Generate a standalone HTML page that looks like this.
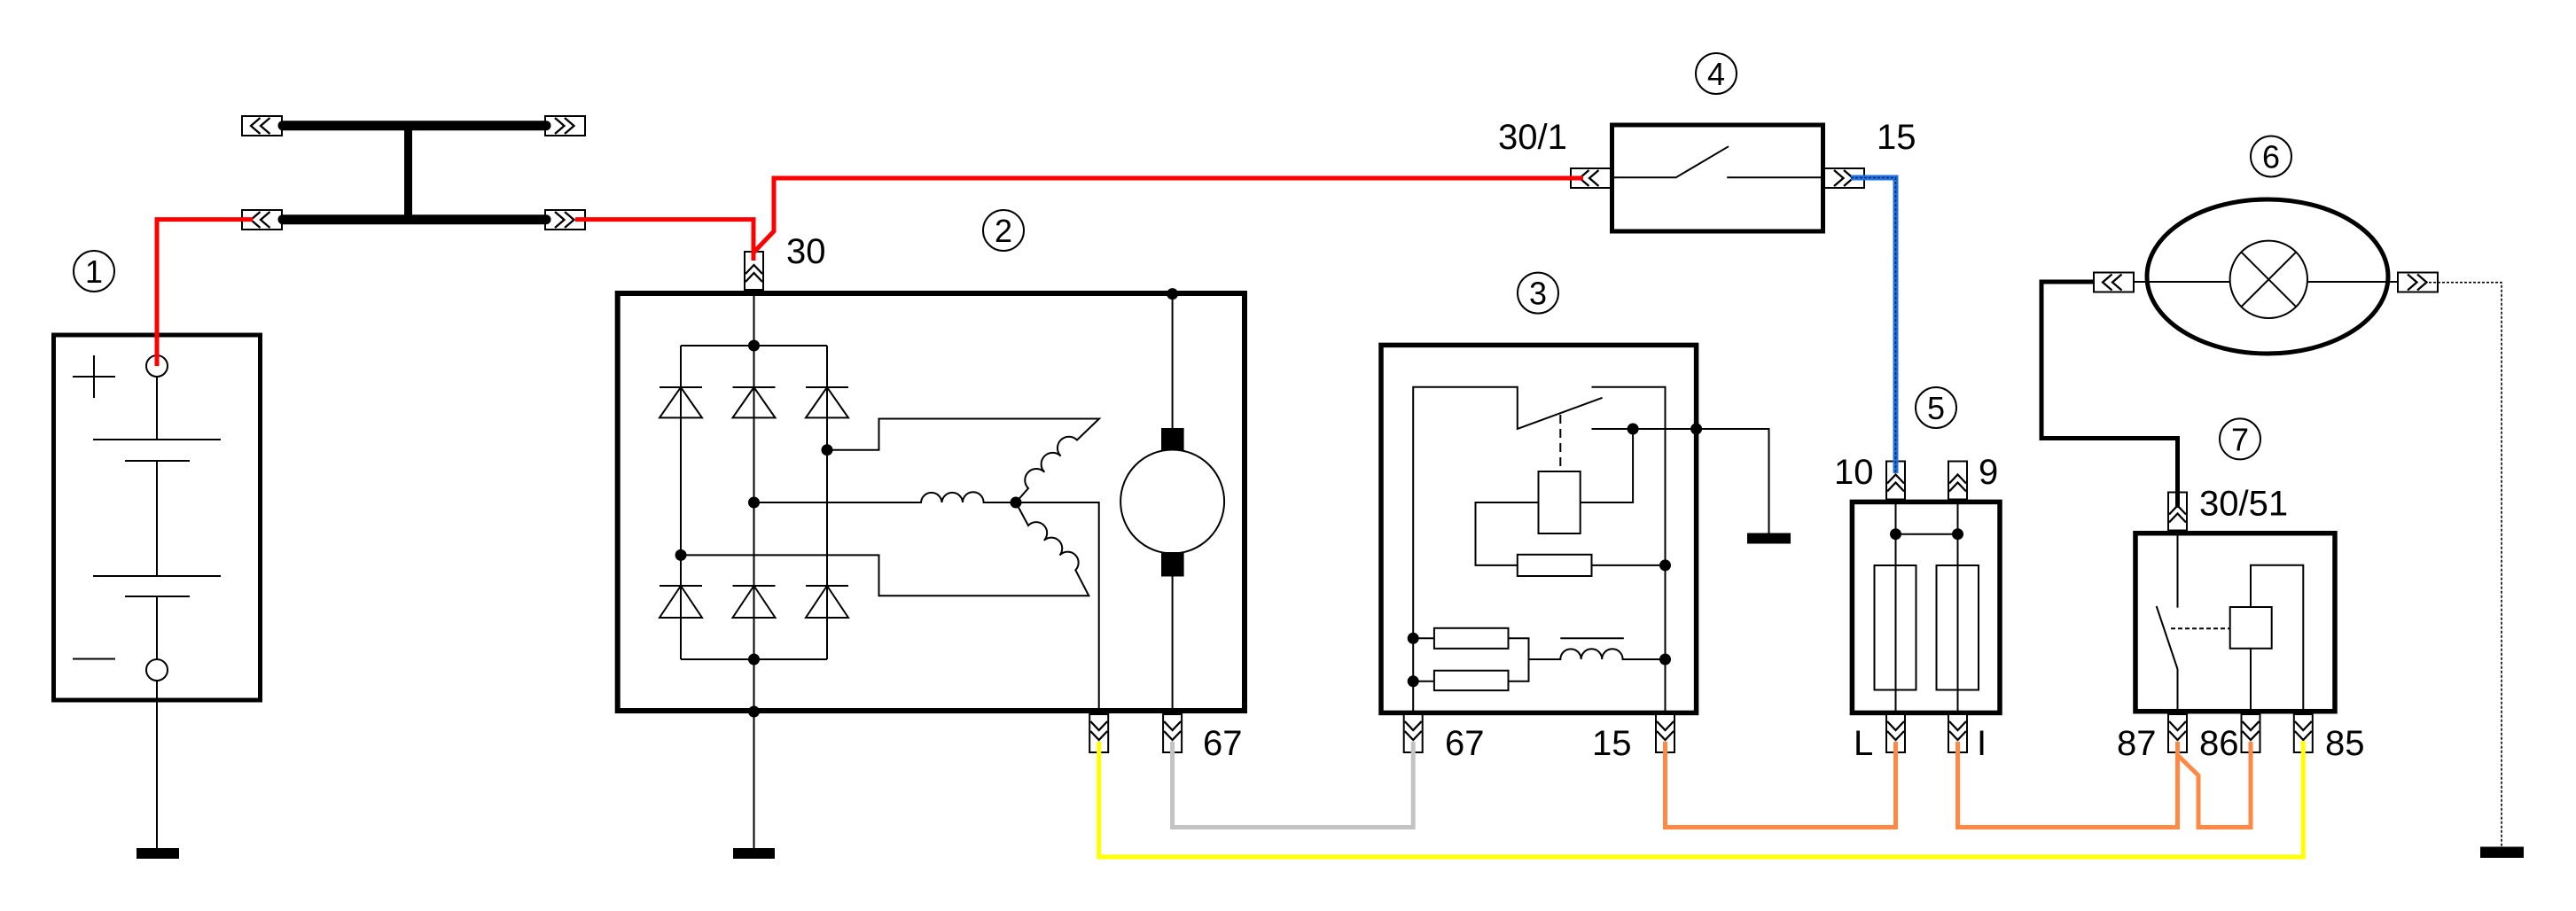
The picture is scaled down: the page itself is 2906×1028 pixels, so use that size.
<!DOCTYPE html>
<html>
<head>
<meta charset="utf-8">
<style>
  html,body{margin:0;padding:0;background:#fff;}
  svg{display:block;}
  text{font-family:"Liberation Sans", Arial, sans-serif; fill:#000;}
</style>
</head>
<body>
<svg xmlns="http://www.w3.org/2000/svg" width="2906" height="1028" viewBox="0 0 2906 1028">
  <defs>
    <g id="cL">
      <rect x="1" y="1" width="45" height="22" fill="#fff" stroke="#000" stroke-width="2"/>
      <polyline points="21.5,3 11,12 21.5,21" fill="none" stroke="#000" stroke-width="2.3"/>
      <polyline points="32.5,3 22,12 32.5,21" fill="none" stroke="#000" stroke-width="2.3"/>
    </g>
    <g id="cR">
      <rect x="1" y="1" width="45" height="22" fill="#fff" stroke="#000" stroke-width="2"/>
      <polyline points="12,3 22.5,12 12,21" fill="none" stroke="#000" stroke-width="2.3"/>
      <polyline points="23,3 33.5,12 23,21" fill="none" stroke="#000" stroke-width="2.3"/>
    </g>
    <g id="cU">
      <rect x="1" y="1" width="21" height="43" fill="#fff" stroke="#000" stroke-width="2"/>
      <polyline points="2,26 11.5,16 21,26" fill="none" stroke="#000" stroke-width="2.3"/>
      <polyline points="2,35 11.5,25 21,35" fill="none" stroke="#000" stroke-width="2.3"/>
    </g>
    <g id="cD">
      <rect x="1" y="1" width="21" height="43" fill="#fff" stroke="#000" stroke-width="2"/>
      <polyline points="2,9 11.5,19 21,9" fill="none" stroke="#000" stroke-width="2.3"/>
      <polyline points="2,20 11.5,30 21,20" fill="none" stroke="#000" stroke-width="2.3"/>
    </g>
  </defs>

  <rect width="2906" height="1028" fill="#fff"/>

  <!-- ================= BATTERY (1) ================= -->
  <circle cx="106" cy="306" r="23" fill="none" stroke="#000" stroke-width="2"/>
  <text x="106" y="319" font-size="36" text-anchor="middle">1</text>
  <rect x="60.5" y="378" width="233" height="412" fill="none" stroke="#000" stroke-width="5"/>
  <g stroke="#000" stroke-width="2" fill="none">
    <line x1="82" y1="425" x2="130" y2="425"/>
    <line x1="106" y1="401" x2="106" y2="449"/>
    <line x1="82" y1="743.5" x2="130" y2="743.5"/>
    <circle cx="177" cy="413" r="12"/>
    <circle cx="177" cy="756" r="12"/>
    <line x1="177" y1="425" x2="177" y2="496"/>
    <line x1="105" y1="496" x2="249" y2="496"/>
    <line x1="141" y1="520" x2="214" y2="520"/>
    <line x1="177" y1="520" x2="177" y2="650"/>
    <line x1="105" y1="650" x2="249" y2="650"/>
    <line x1="141" y1="673" x2="214" y2="673"/>
    <line x1="177" y1="673" x2="177" y2="744"/>
    <line x1="177" y1="768" x2="177" y2="958"/>
  </g>
  <rect x="154" y="957" width="48" height="12" fill="#000"/>

  <!-- ================= H-BAR ================= -->
  <use href="#cL" x="272" y="130"/>
  <use href="#cL" x="272" y="236"/>
  <use href="#cR" x="614" y="130"/>
  <use href="#cR" x="614" y="236"/>
  <g stroke="#000" fill="none">
    <line x1="319" y1="141.7" x2="616" y2="141.7" stroke-width="11" stroke-linecap="round"/>
    <line x1="319" y1="247.7" x2="616" y2="247.7" stroke-width="11" stroke-linecap="round"/>
    <line x1="460.5" y1="141.7" x2="460.5" y2="247.7" stroke-width="9"/>
  </g>

  <!-- ================= ALTERNATOR (2) ================= -->
  <circle cx="1132" cy="260" r="23" fill="none" stroke="#000" stroke-width="2"/>
  <text x="1132" y="273" font-size="36" text-anchor="middle">2</text>
  <use href="#cU" x="839" y="283"/>
  <text x="887" y="297" font-size="40">30</text>
  <rect x="696.7" y="331" width="707.3" height="471" fill="none" stroke="#000" stroke-width="6"/>
  <g stroke="#000" stroke-width="2" fill="none">
    <line x1="850.5" y1="326" x2="850.5" y2="958"/>
    <line x1="768" y1="390" x2="933" y2="390"/>
    <line x1="768" y1="744" x2="933" y2="744"/>
    <line x1="768" y1="390" x2="768" y2="744"/>
    <line x1="933" y1="390" x2="933" y2="744"/>
    <!-- diodes top -->
    <line x1="744" y1="437" x2="792" y2="437"/>
    <polygon points="768,437 744,471.4 792,471.4"/>
    <line x1="826.5" y1="437" x2="874.5" y2="437"/>
    <polygon points="850.5,437 826.5,471.4 874.5,471.4"/>
    <line x1="909" y1="437" x2="957" y2="437"/>
    <polygon points="933,437 909,471.4 957,471.4"/>
    <!-- diodes bottom -->
    <line x1="744" y1="661" x2="792" y2="661"/>
    <polygon points="768,661 744,697 792,697"/>
    <line x1="826.5" y1="661" x2="874.5" y2="661"/>
    <polygon points="850.5,661 826.5,697 874.5,697"/>
    <line x1="909" y1="661" x2="957" y2="661"/>
    <polygon points="933,661 909,697 957,697"/>
    <!-- windings -->
    <path d="M933 507.7 H991.5 V472.5 H1240 L1215 496.5 A12.9 12.9 0 0 0 1196.7 514.7 A12.9 12.9 0 0 0 1178.3 532.8 A12.9 12.9 0 0 0 1160 551 L1146 567"/>
    <path d="M850.5 567 H1039 A11.77 11.77 0 0 1 1062.5 567 A11.77 11.77 0 0 1 1086 567 A11.77 11.77 0 0 1 1109.6 567 H1239.7 V806"/>
    <path d="M1146 567 L1160 593 A12.2 12.2 0 0 1 1177.8 609.8 A12.2 12.2 0 0 1 1195.5 626.5 A12.2 12.2 0 0 1 1213.3 643.3 L1228.3 672.3 H991.5 V626.4 H768"/>
    <!-- motor line -->
    <line x1="1322.6" y1="331" x2="1322.6" y2="806"/>
  </g>
  <circle cx="1322.6" cy="566" r="58.5" fill="#fff" stroke="#000" stroke-width="2"/>
  <rect x="1310" y="483" width="25.6" height="25" fill="#000"/>
  <rect x="1310" y="623" width="25.6" height="27.5" fill="#000"/>
  <g fill="#000">
    <circle cx="850.5" cy="390" r="6.5"/>
    <circle cx="933" cy="507.7" r="6.5"/>
    <circle cx="850.5" cy="567" r="6.5"/>
    <circle cx="1146" cy="567" r="6.5"/>
    <circle cx="768" cy="626.4" r="6.5"/>
    <circle cx="850.5" cy="744" r="6.5"/>
    <circle cx="850.5" cy="803" r="6.5"/>
    <circle cx="1322.6" cy="331.6" r="6.5"/>
  </g>
  <rect x="827" y="957" width="47" height="12" fill="#000"/>
  <use href="#cD" x="1228.2" y="805"/>
  <use href="#cD" x="1311.1" y="805"/>
  <text x="1357" y="852" font-size="40">67</text>

  <!-- ================= SWITCH (4) ================= -->
  <circle cx="1936" cy="83" r="23" fill="none" stroke="#000" stroke-width="2"/>
  <text x="1936" y="96" font-size="36" text-anchor="middle">4</text>
  <text x="1690" y="168" font-size="40">30/1</text>
  <text x="2117" y="168" font-size="40">15</text>
  <use href="#cL" x="1771" y="189"/>
  <use href="#cR" x="2057" y="189"/>
  <rect x="1818.5" y="141" width="238" height="120" fill="none" stroke="#000" stroke-width="5"/>
  <g stroke="#000" stroke-width="2" fill="none">
    <path d="M1821 200.3 H1890.6 L1950 165.2"/>
    <line x1="1948.2" y1="200.3" x2="2054" y2="200.3"/>
  </g>

  <!-- ================= REGULATOR (3) ================= -->
  <circle cx="1735" cy="330.6" r="23" fill="none" stroke="#000" stroke-width="2"/>
  <text x="1735" y="343.6" font-size="36" text-anchor="middle">3</text>
  <rect x="1558" y="389.4" width="355.6" height="415" fill="none" stroke="#000" stroke-width="5.5"/>
  <g stroke="#000" stroke-width="2" fill="none">
    <path d="M1594.2 806 V436.7 H1711.8 V484 L1807.6 448.8"/>
    <path d="M1795.5 436.7 H1878.5 V806"/>
    <line x1="1760.3" y1="468" x2="1760.3" y2="532" stroke-dasharray="10,6"/>
    <path d="M1795.5 484 H1995.5 V602"/>
    <path d="M1842.1 484 V567 H1782.7"/>
    <rect x="1735.5" y="532" width="47.2" height="70"/>
    <path d="M1735.5 567 H1664.5 V637.9 H1711.8"/>
    <rect x="1711.8" y="625.8" width="83.7" height="24.2"/>
    <line x1="1795.5" y1="637.9" x2="1878.5" y2="637.9"/>
    <line x1="1594.2" y1="720.3" x2="1617.9" y2="720.3"/>
    <rect x="1617.9" y="708.8" width="83.6" height="23"/>
    <line x1="1594.2" y1="768.8" x2="1617.9" y2="768.8"/>
    <rect x="1617.9" y="756.7" width="83.6" height="22.4"/>
    <path d="M1701.5 720.3 H1724.5 V768.8 H1701.5"/>
    <path d="M1724.5 744 H1760.3 A11.7 11.7 0 0 1 1783.7 744 A11.7 11.7 0 0 1 1807.2 744 A11.7 11.7 0 0 1 1830.6 744 H1878.5"/>
    <line x1="1760.3" y1="720.3" x2="1831.8" y2="720.3"/>
  </g>
  <g fill="#000">
    <circle cx="1842.1" cy="484" r="6.5"/>
    <circle cx="1913.6" cy="484" r="6.5"/>
    <circle cx="1878.5" cy="637.9" r="6.5"/>
    <circle cx="1594.2" cy="720.3" r="6.5"/>
    <circle cx="1594.2" cy="768.8" r="6.5"/>
    <circle cx="1878.5" cy="744" r="6.5"/>
  </g>
  <rect x="1971" y="601.5" width="49" height="12" fill="#000"/>
  <use href="#cD" x="1582.7" y="805"/>
  <use href="#cD" x="1867" y="805"/>
  <text x="1630" y="852" font-size="40">67</text>
  <text x="1796" y="852" font-size="40">15</text>

  <!-- ================= FUSES (5) ================= -->
  <circle cx="2184" cy="460" r="23" fill="none" stroke="#000" stroke-width="2"/>
  <text x="2184" y="473" font-size="36" text-anchor="middle">5</text>
  <use href="#cU" x="2127" y="519.5"/>
  <use href="#cU" x="2197" y="519.5"/>
  <text x="2069" y="546" font-size="40">10</text>
  <text x="2232" y="546" font-size="40">9</text>
  <rect x="2089.4" y="566.4" width="166.6" height="238" fill="none" stroke="#000" stroke-width="5.5"/>
  <g stroke="#000" stroke-width="2" fill="none">
    <line x1="2138.5" y1="565" x2="2138.5" y2="806"/>
    <line x1="2208.5" y1="565" x2="2208.5" y2="806"/>
    <line x1="2138.5" y1="602.7" x2="2208.5" y2="602.7"/>
    <rect x="2114.5" y="638" width="47" height="140.5"/>
    <rect x="2184.5" y="638" width="47.5" height="140.5"/>
  </g>
  <circle cx="2138.5" cy="602.7" r="6.5" fill="#000"/>
  <circle cx="2208.5" cy="602.7" r="6.5" fill="#000"/>
  <use href="#cD" x="2127" y="805"/>
  <use href="#cD" x="2197" y="805"/>
  <text x="2091" y="852" font-size="40">L</text>
  <text x="2230" y="852" font-size="40">I</text>

  <!-- ================= LAMP (6) ================= -->
  <circle cx="2562" cy="176.5" r="23" fill="none" stroke="#000" stroke-width="2"/>
  <text x="2562" y="189.5" font-size="36" text-anchor="middle">6</text>
  <use href="#cL" x="2361" y="306.5"/>
  <use href="#cR" x="2704" y="306.5"/>
  <g stroke="#000" stroke-width="2" fill="none">
    <line x1="2408" y1="318" x2="2515.6" y2="318"/>
    <line x1="2603" y1="318" x2="2704" y2="318"/>
    <circle cx="2559.3" cy="315.3" r="43.7"/>
    <line x1="2528.4" y1="284.4" x2="2590.2" y2="346.2"/>
    <line x1="2590.2" y1="284.4" x2="2528.4" y2="346.2"/>
  </g>
  <ellipse cx="2558" cy="312" rx="136" ry="87" fill="none" stroke="#000" stroke-width="5"/>

  <!-- ================= RELAY (7) ================= -->
  <circle cx="2527" cy="495.4" r="23" fill="none" stroke="#000" stroke-width="2"/>
  <text x="2527" y="508.4" font-size="36" text-anchor="middle">7</text>
  <use href="#cU" x="2445" y="554.5"/>
  <text x="2481" y="581.7" font-size="40">30/51</text>
  <rect x="2409" y="601.7" width="225" height="201" fill="none" stroke="#000" stroke-width="5.5"/>
  <g stroke="#000" stroke-width="2" fill="none">
    <line x1="2456.5" y1="601" x2="2456.5" y2="685.7"/>
    <line x1="2432.7" y1="684" x2="2456.5" y2="755"/>
    <line x1="2456.5" y1="755" x2="2456.5" y2="806"/>
    <line x1="2449" y1="709.3" x2="2516" y2="709.3" stroke-dasharray="5,3"/>
    <rect x="2515.7" y="685" width="47" height="46.7"/>
    <path d="M2539 806 V731.7"/>
    <path d="M2539 685 V637.7 H2598.3 V806"/>
  </g>
  <use href="#cD" x="2445" y="805"/>
  <use href="#cD" x="2527.5" y="805"/>
  <use href="#cD" x="2586.8" y="805"/>
  <text x="2388" y="852" font-size="40">87</text>
  <text x="2481" y="852" font-size="40">86</text>
  <text x="2623" y="852" font-size="40">85</text>

  <!-- lamp ground (dotted) -->
  <path d="M2740 318.7 H2822 V957" fill="none" stroke="#000" stroke-width="1.6" stroke-dasharray="3,2"/>
  <rect x="2798" y="955.5" width="49" height="12.5" fill="#000"/>

  <!-- ================= WIRES ================= -->
  <g fill="none" stroke-width="5" stroke-linejoin="miter">
    <!-- red -->
    <path d="M177 413 V247.6 H285" stroke="#ff0000"/>
    <path d="M649 247.6 H850 V294" stroke="#ff0000"/>
    <path d="M1786 201 H873 V261 L850 285" stroke="#ff0000"/>
    <!-- blue -->
    <path d="M2088 200.5 H2138.5 V534" stroke="#1f73e0" stroke-width="6"/>
    <path d="M2088 200.5 H2138.5 V534" stroke="#0c2466" stroke-width="1.6" stroke-dasharray="3,2"/>
    <!-- black lamp wire -->
    <path d="M2363 318 H2303 V494.5 H2456.5 V573" stroke="#000"/>
    <!-- gray -->
    <path d="M1322.6 837 V933.5 H1594.2 V837" stroke="#c3c3c3"/>
    <!-- orange -->
    <path d="M1878.5 837 V933.5 H2138.5 V837" stroke="#ff8844"/>
    <path d="M2208.5 837 V933.5 H2456.5 V837" stroke="#ff8844"/>
    <path d="M2456.5 852 L2480 875 V933.5 H2539 V837" stroke="#ff8844"/>
    <!-- yellow -->
    <path d="M1239.7 837 V967 H2598.3 V836" stroke="#ffff00"/>
  </g>
</svg>
</body>
</html>
